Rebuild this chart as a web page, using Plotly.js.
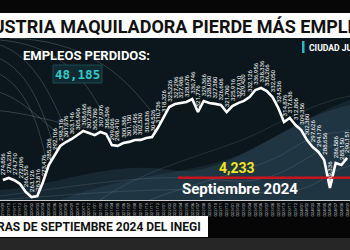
<!DOCTYPE html>
<html><head><meta charset="utf-8">
<script src="https://cdn.plot.ly/plotly-3.0.1.min.js"></script>
<style>html,body{margin:0;padding:0;background:#0b171c;overflow:hidden}#chart{width:350px;height:250px}</style>
</head><body><div id="chart"></div>
<script>
const months = ["2019/09","2019/10","2019/11","2019/12",
"2020/01","2020/02","2020/03","2020/04","2020/05","2020/06","2020/07","2020/08","2020/09","2020/10","2020/11","2020/12",
"2021/01","2021/02","2021/03","2021/04","2021/05","2021/06","2021/07","2021/08","2021/09","2021/10","2021/11","2021/12",
"2022/01","2022/02","2022/03","2022/04","2022/05","2022/06","2022/07","2022/08","2022/09","2022/10","2022/11","2022/12",
"2023/01","2023/02","2023/03","2023/04","2023/05","2023/06","2023/07","2023/08","2023/09","2023/10","2023/11","2023/12",
"2024/01","2024/02","2024/03","2024/04","2024/05","2024/06","2024/07","2024/08","2024/09"];
const employees = [274856,276236,274710,272096,266576,263126,263816,273476,285206,292106,
298316,301076,303146,305906,308666,307286,305780,307976,306596,299006,
298410,300386,301150,302456,302530,303836,304526,310736,318326,325226,
327296,327986,328676,330746,321776,329366,328050,327380,326606,321700,
325916,327910,329420,332126,336956,338336,336266,332050,324536,314876,
317636,312806,309356,302380,297626,294176,288656,269336,286586,285150,290151];
const lostTotal = 48185;
const monthLoss = 4233;
const periodLabel = "Septiembre 2024";
const headline = "INDUSTRIA MAQUILADORA PIERDE MÁS EMPLEOS";
const place = "CIUDAD JUÁREZ";
const lostLabel = "EMPLEOS PERDIDOS:";
const source = "CIFRAS DE SEPTIEMBRE 2024 DEL INEGI";

const W = 350, PH = 200;
const px = x => x / W;
const py = y => (PH - y) / PH;
const P = (x, y) => px(x).toFixed(4) + "," + py(y).toFixed(4);
const fmt = n => n.toLocaleString("en-US");

const shapes = [];
const rect = (x0, y0, x1, y1, fill, layer, line) => shapes.push({type:"rect", xref:"paper", yref:"paper",
  x0:px(x0), x1:px(x1), y0:py(y1), y1:py(y0), fillcolor:fill, line:line||{width:0}, layer:layer||"above"});
const path = (d, color, w, fill, layer) => shapes.push({type:"path", xref:"paper", yref:"paper", path:d,
  line:{color:color, width:w}, fillcolor:fill||"rgba(0,0,0,0)", layer:layer||"below"});

// background decor
path("M"+P(0,200)+" L"+P(0,190)+" C"+P(60,185)+" "+P(110,160)+" "+P(170,170)+" C"+P(230,180)+" "+P(280,120)+" "+P(350,105)+" L"+P(350,200)+" Z",
  "rgba(0,0,0,0)", 0, "rgba(70,105,130,0.22)");
path("M"+P(60,200)+" C"+P(140,170)+" "+P(200,175)+" "+P(250,150)+" C"+P(290,130)+" "+P(320,110)+" "+P(350,100)+" L"+P(350,200)+" Z",
  "rgba(0,0,0,0)", 0, "rgba(90,130,160,0.15)");
const streaks = [[-10,42,30,50,50,90,70,140],[-10,55,25,65,40,100,55,150],[-10,70,20,80,35,110,45,155],
  [0,40,60,45,90,80,110,130],[10,38,80,40,120,70,150,110],[-10,90,20,95,40,120,60,135],[-10,110,30,112,60,125,90,128]];
streaks.forEach(s => path("M"+P(s[0],s[1])+" C"+P(s[2],s[3])+" "+P(s[4],s[5])+" "+P(s[6],s[7]), "rgba(255,255,255,0.22)", 0.8));
const mesh = [[0,196,80,186,150,172,220,180,300,150,350,140],[0,200,100,192,180,186,250,192,320,172,350,166],
  [100,200,150,165,220,152,260,132,320,102,350,96],[150,200,200,180,260,170,290,150,330,135,350,130]];
mesh.forEach(m => path("M"+P(m[0],m[1])+" C"+P(m[2],m[3])+" "+P(m[4],m[5])+" "+P(m[6],m[7])+" S"+P(m[8],m[9])+" "+P(m[10],m[11]), "rgba(140,175,200,0.25)", 0.7));

// frame bands
rect(0,0,350,13,"#070707");
rect(0,13,350,38,"#ffffff");
rect(302,41,304.5,53,"#29b8c4");
rect(53,65,102,83,"#0f2a30","above",{color:"#1e4a52",width:1});
rect(178,176.5,350,179,"#c8141e");
rect(0,201,350,217,"#070b0d","below");
rect(0,217,350,238,"#060606");
rect(0,216,208,237,"#ffffff");
rect(0,238,350,250,"#262626");

const annotations = [];
employees.forEach((v, i) => annotations.push({x:months[i], y:v, xref:"x", yref:"y", text:fmt(v), textangle:-90,
  showarrow:false, xanchor:"center", yanchor:"bottom", yshift:3, font:{family:"Roboto", size:6.2, color:"#ffffff"}}));
const txt = (x, y, t, size, color, xa, fam, weight) => annotations.push({xref:"paper", yref:"paper", x:px(x), y:py(y),
  text:t, showarrow:false, xanchor:xa||"left", yanchor:"middle", font:{family:fam||"Roboto", size:size, color:color, weight:weight||700}});
txt(172, 26, headline, 18, "#111111", "center");
txt(307, 47.5, place, 8.6, "#ffffff", "left");
txt(21, 55.5, lostLabel, 13, "#ffffff", "left");
txt(77.5, 74, fmt(lostTotal), 12.5, "#35c9c6", "center", "DejaVu Sans Mono");
txt(217, 167.5, fmt(monthLoss), 14, "#f2e41e", "left");
txt(180, 189, periodLabel, 15, "#ffffff", "left");
txt(203, 226.5, source, 12, "#111111", "right", "Liberation Sans Narrow, Roboto");

const trace = {x:months, y:employees, type:"scatter", mode:"lines", line:{color:"#ffffff", width:2.6}, hoverinfo:"skip"};
const layout = {width:350, height:250, margin:{l:0,r:0,t:0,b:50}, paper_bgcolor:"#0b171c", plot_bgcolor:"rgba(0,0,0,0)",
  showlegend:false,
  xaxis:{type:"category", range:[-0.5, months.length-0.5], showgrid:false, zeroline:false, showline:true, linecolor:"#cfcfcf", linewidth:1,
    tickangle:-90, tickfont:{family:"Roboto", size:4.3, color:"#bdbdbd"}, ticks:"", automargin:false, fixedrange:true},
  yaxis:{range:[261056, 399056], visible:false, showgrid:false, zeroline:false, fixedrange:true},
  shapes:shapes, annotations:annotations};
Plotly.newPlot("chart", [trace], layout, {staticPlot:true, displayModeBar:false});
</script></body></html>
